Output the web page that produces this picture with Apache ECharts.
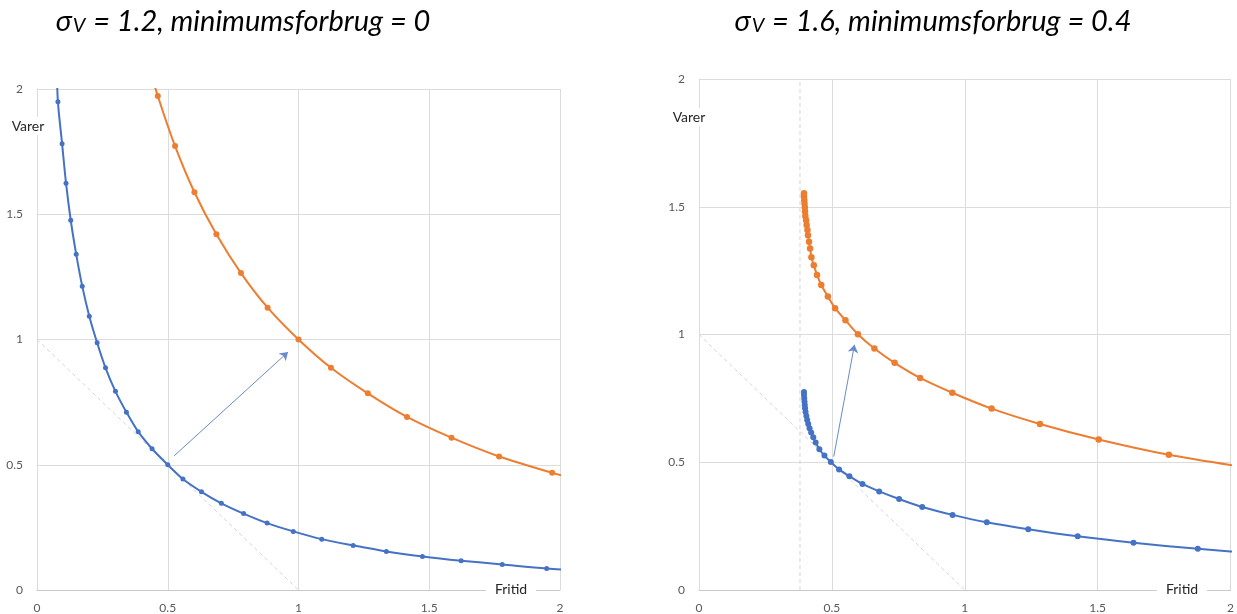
<!DOCTYPE html>
<html>
<head>
<meta charset="utf-8">
<script src="https://cdn.jsdelivr.net/npm/echarts@6/dist/echarts.min.js"></script>
<style>
  html, body { margin: 0; background: #fff; }
  #container { width: 1237px; height: 614px; }
</style>
</head>
<body>
<div id="container"></div>
<script>
var dom = document.getElementById("container");
var myChart = echarts.init(dom);

// venstre panel: sigma = 1.2, minimumsforbrug = 0
var blueLeft = [
  [0.074, 2.13], [0.080, 1.949], [0.096, 1.781], [0.111, 1.624], [0.129, 1.476], [0.150, 1.340],
  [0.173, 1.213], [0.200, 1.093], [0.230, 0.987], [0.262, 0.887], [0.300, 0.793],
  [0.342, 0.710], [0.387, 0.632], [0.440, 0.564], [0.500, 0.500], [0.558, 0.443],
  [0.629, 0.392], [0.705, 0.346], [0.790, 0.305], [0.880, 0.267], [0.980, 0.234],
  [1.089, 0.203], [1.209, 0.178], [1.336, 0.154], [1.474, 0.134], [1.622, 0.117],
  [1.779, 0.102], [1.949, 0.086], [2.13, 0.074]
];
var orangeLeft = [
  [0.400, 2.186], [0.462, 1.972], [0.528, 1.772], [0.602, 1.588], [0.686, 1.420], [0.780, 1.265],
  [0.882, 1.127], [1.000, 1.000], [1.124, 0.887], [1.265, 0.785], [1.415, 0.691],
  [1.585, 0.608], [1.767, 0.533], [1.970, 0.468], [2.178, 0.408]
];
var arrowLeft = [[0.525, 0.536], [0.96, 0.95]];

// højre panel: sigma = 1.6, minimumsforbrug = 0.4
var blueRight = [
  [0.395, 0.775], [0.395, 0.763], [0.396, 0.750], [0.397, 0.737], [0.398, 0.724],
  [0.399, 0.711], [0.401, 0.697], [0.404, 0.681], [0.407, 0.665], [0.411, 0.650],
  [0.416, 0.633], [0.422, 0.616], [0.430, 0.598], [0.439, 0.577], [0.453, 0.551],
  [0.472, 0.526], [0.496, 0.501], [0.527, 0.472], [0.566, 0.445], [0.615, 0.415],
  [0.678, 0.386], [0.753, 0.356], [0.840, 0.325], [0.954, 0.294], [1.083, 0.265],
  [1.239, 0.238], [1.425, 0.210], [1.635, 0.185], [1.877, 0.161], [2.16, 0.138]
];
var orangeRight = [
  [0.395, 1.553], [0.395, 1.540], [0.396, 1.526], [0.397, 1.513], [0.398, 1.498],
  [0.399, 1.481], [0.400, 1.464], [0.403, 1.447], [0.405, 1.429], [0.408, 1.409],
  [0.410, 1.388], [0.414, 1.363], [0.418, 1.337], [0.423, 1.302], [0.432, 1.271],
  [0.444, 1.233], [0.460, 1.194], [0.485, 1.149], [0.512, 1.103], [0.551, 1.056],
  [0.598, 1.001], [0.660, 0.945], [0.736, 0.889], [0.832, 0.830], [0.953, 0.772],
  [1.101, 0.710], [1.283, 0.650], [1.504, 0.589], [1.768, 0.529], [2.08, 0.476]
];
var arrowRight = [[0.507, 0.522], [0.585, 0.96]];
var minLine = [[0.38, 0], [0.38, 1.99]];

var budget = [[0, 1], [1, 0]];
var axisMin = 0, axisMax = 2, axisStep = 0.5;

var BLUE = '#4472C4', ORANGE = '#ED7D31', ARROW = '#6A8BCB';
var FONT = 'Lato, "Open Sans", sans-serif';

function xAx(gi) {
  return {
    type: 'value', gridIndex: gi, min: axisMin, max: axisMax, interval: axisStep,
    axisLine: { lineStyle: { color: '#C9C9C9' } },
    axisTick: { show: false },
    axisLabel: { color: '#595959', fontSize: 12, fontFamily: FONT, margin: 12 },
    splitLine: { lineStyle: { color: '#DCDCDC' } }
  };
}
function yAx(gi) {
  return {
    type: 'value', gridIndex: gi, min: axisMin, max: axisMax, interval: axisStep,
    axisLine: { show: true, lineStyle: { color: '#DCDCDC' } },
    axisTick: { show: false },
    axisLabel: { color: '#595959', fontSize: 12, fontFamily: FONT, margin: 14 },
    splitLine: { lineStyle: { color: '#DCDCDC' } }
  };
}
function curve(data, gi, color, size) {
  return {
    type: 'line', xAxisIndex: gi, yAxisIndex: gi, data: data,
    smooth: 0.3, symbol: 'circle', symbolSize: size, clip: true,
    itemStyle: { color: color },
    lineStyle: { color: color, width: 2 },
    z: 5
  };
}
function dashed(data, gi) {
  return {
    type: 'line', xAxisIndex: gi, yAxisIndex: gi, data: data, symbol: 'none',
    lineStyle: { color: '#D6D6D6', width: 1, type: [4, 3] }, z: 2
  };
}
function arrow(coords, gi) {
  return {
    type: 'lines', coordinateSystem: 'cartesian2d', xAxisIndex: gi, yAxisIndex: gi,
    symbol: ['none', 'arrow'], symbolSize: 8,
    lineStyle: { color: ARROW, width: 1, opacity: 1 },
    data: [{ coords: coords }], z: 4
  };
}

var titleRich = {
  a: { fontSize: 29, fontStyle: 'italic', fontFamily: FONT, color: '#000', padding: [0, 0, 9, 0] },
  b: { fontSize: 20, fontStyle: 'italic', fontFamily: FONT, color: '#000', padding: [0, 1, 0, 1] }
};
function label(text, x, y, size) {
  return {
    type: 'text', x: x, y: y, z: 100,
    style: {
      text: text, fill: '#262626', font: size + 'px ' + FONT,
      align: 'center', verticalAlign: 'middle', textAlign: 'center', textVerticalAlign: 'middle',
      backgroundColor: '#fff', padding: [2, 9, 2, 9]
    }
  };
}
function title(text, x) {
  return {
    type: 'text', x: x, y: 26, z: 100,
    style: {
      text: text, rich: titleRich,
      align: 'center', verticalAlign: 'middle', textAlign: 'center', textVerticalAlign: 'middle'
    }
  };
}

option = {
  animation: false,
  backgroundColor: '#fff',
  grid: [
    { left: 37, right: 677, top: 89, bottom: 23 },
    { left: 699, right: 6, top: 79, bottom: 23 }
  ],
  xAxis: [xAx(0), xAx(1)],
  yAxis: [yAx(0), yAx(1)],
  graphic: [
    title('{a|σ}{b|V}{a| = 1.2, minimumsforbrug = 0}', 243),
    title('{a|σ}{b|V}{a| = 1.6, minimumsforbrug = 0.4}', 933),
    label('Varer', 28, 126, 14),
    label('Varer', 689, 117, 14),
    label('Fritid', 511, 589, 14),
    label('Fritid', 1182, 589, 14)
  ],
  series: [
    dashed(budget, 0),
    arrow(arrowLeft, 0),
    curve(blueLeft, 0, BLUE, 5),
    curve(orangeLeft, 0, ORANGE, 6),
    dashed(budget, 1),
    dashed(minLine, 1),
    arrow(arrowRight, 1),
    curve(blueRight, 1, BLUE, 6),
    curve(orangeRight, 1, ORANGE, 6.5)
  ]
};

if (option && typeof option === "object") {
  myChart.setOption(option, true);
}
</script>
</body>
</html>
